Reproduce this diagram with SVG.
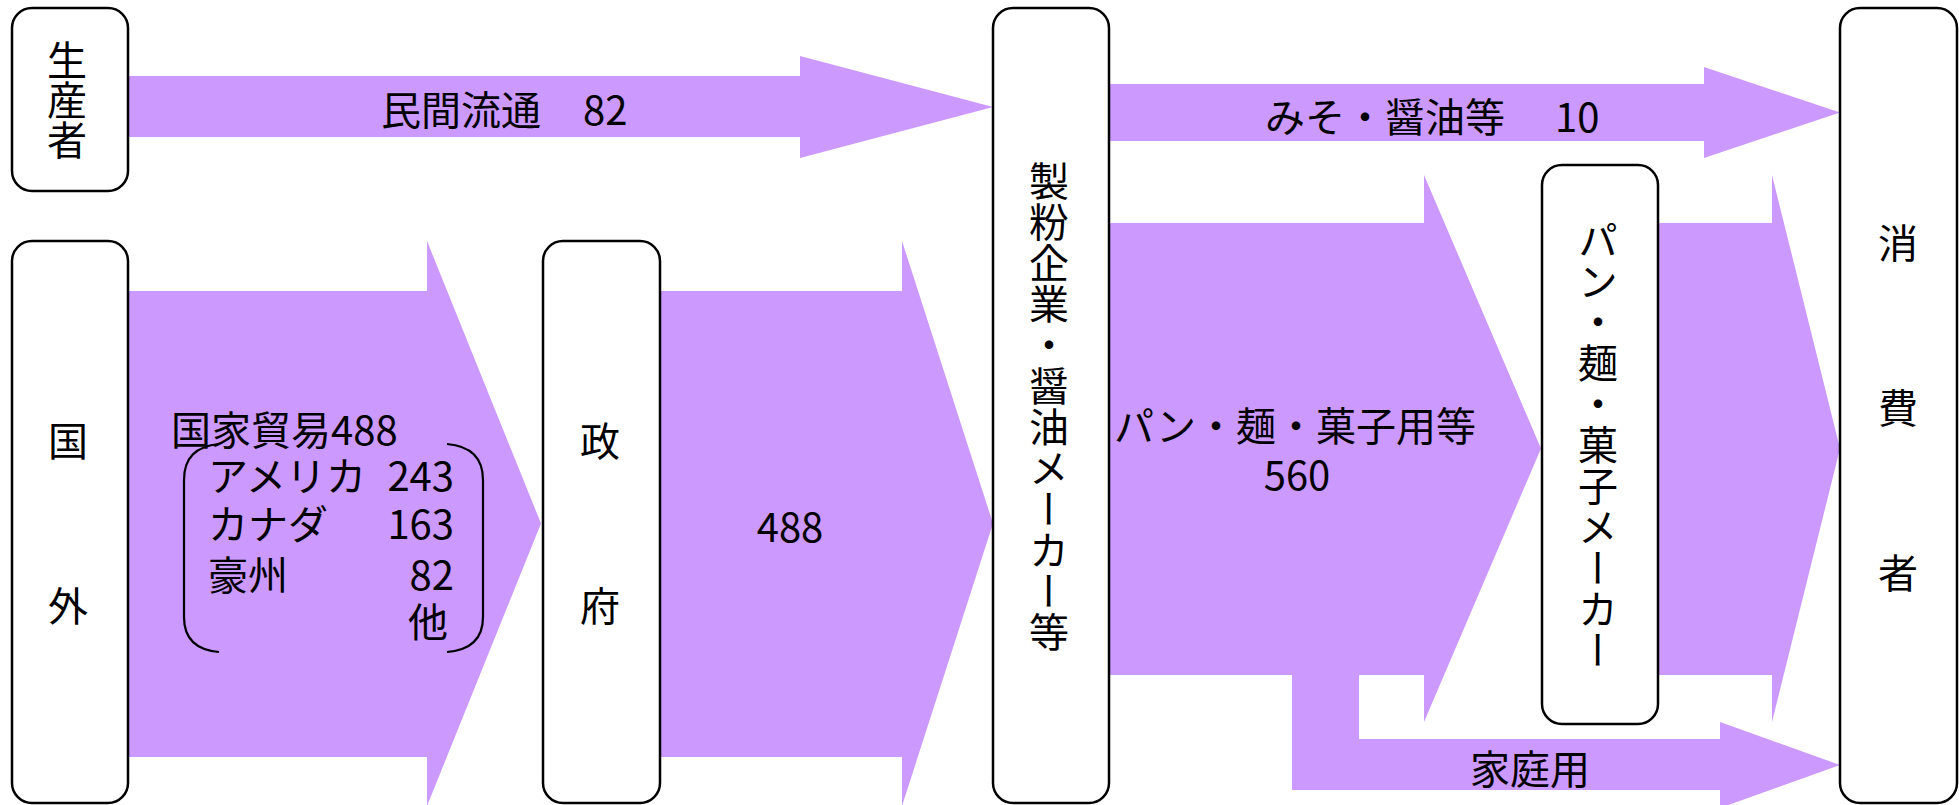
<svg xmlns="http://www.w3.org/2000/svg" width="1959" height="805" viewBox="0 0 1959 805">
<style>
.flow{fill:#CC99FF;stroke:none}
.box{fill:#FFFFFF;stroke:#000000;stroke-width:2.5}
.t{font-family:"Noto Sans CJK JP","Noto Sans CJK SC",sans-serif;font-size:40px;fill:#000000}
.v{writing-mode:vertical-rl}
.br{fill:none;stroke:#000000;stroke-width:2.2}
</style>
<rect x="0" y="0" width="1959" height="805" fill="#FFFFFF"/>
<g id="connectors">
<polygon class="flow" points="129,76 800,76 800,56 993,107 800,158 800,137 129,137"/>
<polygon class="flow" points="1109,84 1704,84 1704,67 1840,112.5 1704,158 1704,141 1109,141"/>
<polygon class="flow" points="129,291 427,291 427,241 541,523.5 427,806 427,757 129,757"/>
<polygon class="flow" points="660,291 902,291 902,241 993,523.5 902,806 902,757 660,757"/>
<polygon class="flow" points="1109,223 1424,223 1424,175 1541,448.5 1424,722 1424,675 1109,675"/>
<polygon class="flow" points="1658,223 1772,223 1772,175 1840,448.5 1772,722 1772,675 1658,675"/>
<polygon class="flow" points="1292,674 1359,674 1359,739 1720,739 1720,722 1840,765 1720,808 1720,790 1292,790"/>
<text class="t" x="381" y="125">民間流通<tspan x="583">82</tspan></text>
<text class="t" x="1265" y="132">みそ・醤油等<tspan x="1555">10</tspan></text>
<text class="t" x="171" y="445">国家貿易488</text>
<path class="br" d="M219,444 C196,446 184,458 184,480 L184,617 C184,639 196,650 219,652"/>
<path class="br" d="M447,444 C471,446 483,458 483,480 L483,617 C483,639 471,650 447,652"/>
<text class="t" x="208" y="491">アメリカ<tspan x="454" text-anchor="end">243</tspan></text>
<text class="t" x="208" y="539">カナダ<tspan x="454" text-anchor="end">163</tspan></text>
<text class="t" x="208" y="590">豪州<tspan x="454" text-anchor="end">82</tspan></text>
<text class="t" x="448" y="637" text-anchor="end">他</text>
<text class="t" x="790" y="542" text-anchor="middle">488</text>
<text class="t" x="1114" y="441">パン・麺・菓子用等</text>
<text class="t" x="1297" y="490" text-anchor="middle">560</text>
<text class="t" x="1530" y="784" text-anchor="middle">家庭用</text>
</g>
<g id="node-producer">
<rect class="box" x="12" y="8" width="116" height="183" rx="20" ry="20"/>
<text class="t v" x="67" y="40" letter-spacing="0">生産者</text>
</g>
<g id="node-abroad">
<rect class="box" x="12" y="241" width="116" height="562" rx="20" ry="20"/>
<text class="t" text-anchor="middle"><tspan x="68" y="456">国</tspan><tspan x="68" y="621">外</tspan></text>
</g>
<g id="node-government">
<rect class="box" x="543" y="241" width="117" height="562" rx="20" ry="20"/>
<text class="t" text-anchor="middle"><tspan x="600" y="456">政</tspan><tspan x="600" y="621">府</tspan></text>
</g>
<g id="node-miller">
<rect class="box" x="993" y="8" width="116" height="795" rx="20" ry="20"/>
<text class="t v" x="1049" y="161" letter-spacing="1">製粉企業・醤油メーカー等</text>
</g>
<g id="node-bakery">
<rect class="box" x="1542" y="165" width="116" height="559" rx="20" ry="20"/>
<text class="t v" x="1598" y="220" letter-spacing="1">パン・麺・菓子メーカー</text>
</g>
<g id="node-consumer">
<rect class="box" x="1840" y="8" width="117" height="795" rx="20" ry="20"/>
<text class="t" text-anchor="middle"><tspan x="1898" y="258">消</tspan><tspan x="1898" y="423">費</tspan><tspan x="1898" y="588">者</tspan></text>
</g>
</svg>
